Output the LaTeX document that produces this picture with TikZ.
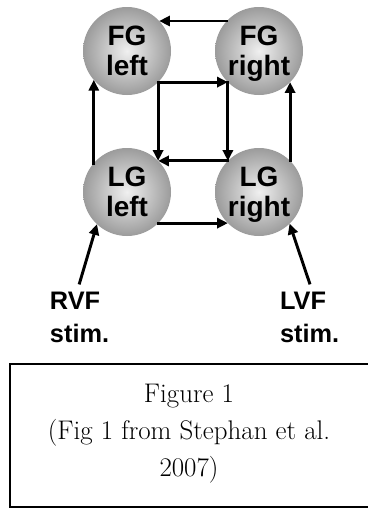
\documentclass[tikz,border=0pt]{standalone}
\usepackage{fontspec}
\newfontfamily\areafont{Liberation Sans}
\usetikzlibrary{arrows.meta}

\begin{document}
\begin{tikzpicture}[x = .75pt, y = -.75pt,
  region/.style = {circle, minimum size = 66pt, inner sep = 0pt, outer sep = 0pt,
    inner color = gray!12, outer color = gray!78, align = center, text depth = 0pt,
    font = \areafont\bfseries\fontsize{21}{22.5}\selectfont},
  stimlabel/.style = {align = left, inner sep = 0pt, outer sep = 6.75pt, anchor = north west,
    font = \areafont\bfseries\fontsize{19}{24.75}\selectfont},
  link/.style = {-{Triangle[length = 8pt, width = 7.5pt]}, line width = 2.2pt, line cap = rect}]
\useasboundingbox (0,0) rectangle (368,508);
\node[region] (FGl) at (127,51) {FG\\left};
\node[region] (FGr) at (259,51) {FG\\right};
\node[region] (LGl) at (127,192) {LG\\left};
\node[region] (LGr) at (259,192) {LG\\right};
\node[stimlabel] (rvf) at (41,283) {RVF\\stim.};
\node[stimlabel] (lvf) at (271,283) {LVF\\stim.};
\draw[link] (FGr.137) -- (FGl.43);
\draw[link] (FGl.-45) -- (FGr.-135);
\draw[link] (FGl.-45) -- (LGl.45);
\draw[link] (FGr.-135) -- (LGr.135);
\draw[link] (LGr.135) -- (LGl.45);
\draw[link] (LGl.-45) -- (LGr.-135);
\draw[link] (LGl.139) -- (FGl.-139);
\draw[link] (LGr.45) -- (FGr.-45);
\draw[link] (rvf.north) -- (LGl.-133);
\draw[link] (lvf.north) -- (LGr.-46);
\draw[line width = 1.2pt] (10,364) rectangle (370,507);
\node[align = center, font = \fontsize{20.2}{27.75}\selectfont] (caption) at (189,434)
  {Figure 1\\(Fig 1 from Stephan et al.\\2007)};
\end{tikzpicture}
\end{document}
